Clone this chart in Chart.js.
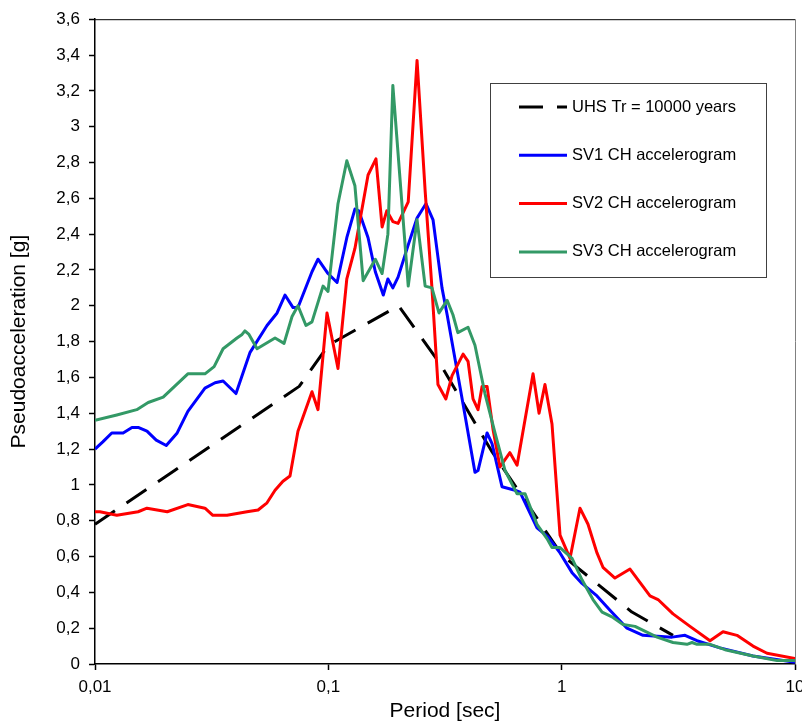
<!DOCTYPE html>
<html>
<head>
<meta charset="utf-8">
<script src="https://cdn.jsdelivr.net/npm/chart.js@4.4.1/dist/chart.umd.min.js"></script>
<style>
  html, body { margin: 0; padding: 0; background: #fff; overflow: hidden; }
  #wrap { width: 802px; height: 726px; }
</style>
</head>
<body>
<div id="wrap"><canvas id="spectra" width="802" height="726"></canvas></div>
<script>
// ---- 1. DATA --------------------------------
// periods in seconds, spectral values in g
const uhsPeriods = [0.01, 0.075, 0.1, 0.2, 0.3, 0.5, 1.0, 2.0, 3.0];
const uhsValues  = [0.78, 1.55, 1.78, 2.0, 1.68, 1.19, 0.61, 0.29, 0.16];

const sv1Periods = [0.01, 0.0108, 0.0118, 0.0132, 0.0144, 0.0154, 0.0167, 0.0183, 0.0202, 0.0225,
  0.025, 0.0296, 0.0327, 0.0354, 0.0402, 0.0462, 0.0546, 0.0603, 0.0652, 0.0706, 0.0741, 0.0851,
  0.0903, 0.0997, 0.109, 0.12, 0.13, 0.135, 0.148, 0.159, 0.172, 0.18, 0.189, 0.199, 0.22, 0.24,
  0.262, 0.281, 0.307, 0.323, 0.378, 0.425, 0.438, 0.479, 0.503, 0.555, 0.631, 0.663, 0.784, 0.874,
  0.984, 1.108, 1.222, 1.417, 1.611, 1.905, 2.232, 2.972, 3.378, 3.802, 4.771, 6.607, 10];
const sv1Values  = [1.20, 1.24, 1.29, 1.29, 1.32, 1.32, 1.30, 1.25, 1.22, 1.29,
  1.41, 1.54, 1.57, 1.58, 1.51, 1.74, 1.89, 1.96, 2.06, 1.99, 1.99, 2.19,
  2.26, 2.18, 2.13, 2.38, 2.54, 2.53, 2.38, 2.19, 2.06, 2.15, 2.10, 2.16, 2.34, 2.49,
  2.57, 2.48, 2.10, 1.95, 1.45, 1.07, 1.08, 1.29, 1.23, 0.99, 0.97, 0.96, 0.76, 0.71,
  0.62, 0.51, 0.45, 0.38, 0.30, 0.20, 0.16, 0.15, 0.16, 0.13, 0.09, 0.045, 0.01];

const sv2Periods = [0.01, 0.0105, 0.0124, 0.0153, 0.0167, 0.0204, 0.025, 0.0296, 0.032, 0.0368,
  0.0448, 0.05, 0.0546, 0.0591, 0.0639, 0.0685, 0.0741, 0.0851, 0.0903, 0.0987, 0.11, 0.12,
  0.13, 0.148, 0.16, 0.17, 0.178, 0.189, 0.199, 0.22, 0.24, 0.26, 0.278, 0.295, 0.319, 0.339,
  0.378, 0.397, 0.417, 0.438, 0.456, 0.479, 0.508, 0.544, 0.6, 0.644, 0.754, 0.8, 0.848, 0.909,
  0.984, 1.086, 1.198, 1.297, 1.417, 1.503, 1.692, 1.963, 2.391, 2.588, 3.001, 3.548, 4.323,
  4.914, 5.641, 6.607, 7.586, 10];
const sv2Values  = [0.85, 0.85, 0.83, 0.85, 0.87, 0.85, 0.89, 0.87, 0.83, 0.83,
  0.85, 0.86, 0.90, 0.97, 1.02, 1.05, 1.30, 1.52, 1.42, 1.96, 1.65, 2.15,
  2.32, 2.73, 2.82, 2.44, 2.53, 2.47, 2.46, 2.58, 3.37, 2.64, 2.10, 1.56, 1.48, 1.61,
  1.73, 1.69, 1.48, 1.42, 1.55, 1.55, 1.31, 1.10, 1.18, 1.11, 1.62, 1.40, 1.56, 1.34,
  0.72, 0.59, 0.87, 0.78, 0.62, 0.54, 0.48, 0.53, 0.38, 0.36, 0.28, 0.21, 0.13,
  0.18, 0.16, 0.10, 0.06, 0.03];

const sv3Periods = [0.01, 0.0124, 0.0151, 0.0169, 0.0196, 0.025, 0.0296, 0.0324, 0.0354, 0.0406,
  0.0427, 0.0439, 0.0457, 0.0495, 0.0591, 0.0646, 0.0699, 0.0741, 0.0802, 0.0851, 0.0949, 0.0997,
  0.11, 0.12, 0.13, 0.141, 0.159, 0.17, 0.18, 0.189, 0.22, 0.24, 0.26, 0.278, 0.298, 0.323,
  0.342, 0.359, 0.397, 0.425, 0.469, 0.518, 0.572, 0.644, 0.697, 0.784, 0.865, 0.909, 0.984,
  1.108, 1.222, 1.362, 1.49, 1.66, 1.832, 2.063, 2.563, 3.001, 3.444, 3.619, 3.802, 4.323,
  5.012, 6.607, 8.375, 10];
const sv3Values  = [1.36, 1.39, 1.42, 1.46, 1.49, 1.62, 1.62, 1.66, 1.76, 1.82,
  1.84, 1.86, 1.84, 1.76, 1.82, 1.79, 1.94, 2.00, 1.89, 1.91, 2.11, 2.08,
  2.57, 2.81, 2.67, 2.14, 2.26, 2.18, 2.40, 3.23, 2.11, 2.48, 2.11, 2.10, 1.96, 2.03,
  1.95, 1.85, 1.88, 1.78, 1.51, 1.29, 1.08, 0.95, 0.95, 0.78, 0.70, 0.65, 0.65,
  0.59, 0.47, 0.36, 0.29, 0.26, 0.22, 0.21, 0.15, 0.12, 0.11, 0.12, 0.11, 0.11,
  0.08, 0.045, 0.02, 0.02];

const seriesNames = ["UHS Tr = 10000 years", "SV1 CH accelerogram", "SV2 CH accelerogram", "SV3 CH accelerogram"];
const xTicks = [0.01, 0.1, 1, 10];

// ---- 2. HELPERS -----------------------------
const toPoints = (xs, ys) => xs.map((x, i) => ({ x: x, y: ys[i] }));
const comma = v => String(Math.round(v * 100) / 100).replace(".", ",");
const FONT = "'Liberation Sans', Arial, sans-serif";

// legend box drawn inside the plot area, like the original
const boxLegend = {
  id: "boxLegend",
  afterDraw(chart) {
    const ctx = chart.ctx;
    const area = chart.chartArea;
    ctx.save();
    // plot frame (top + right)
    ctx.lineWidth = 1;
    ctx.strokeStyle = "#000";
    ctx.beginPath();
    ctx.moveTo(area.left, area.top + 0.5);
    ctx.lineTo(area.right, area.top + 0.5);
    ctx.stroke();
    ctx.strokeStyle = "#808080";
    ctx.beginPath();
    ctx.moveTo(area.right + 0.5, area.top);
    ctx.lineTo(area.right + 0.5, area.bottom);
    ctx.stroke();

    ctx.strokeStyle = "#404040";
    ctx.strokeRect(490.5, 83.5, 276, 194);
    ctx.font = "16.5px " + FONT;
    ctx.fillStyle = "#000";
    ctx.textBaseline = "middle";
    chart.data.datasets.forEach((ds, i) => {
      const y = 107 + i * 48.3;
      ctx.strokeStyle = ds.borderColor;
      ctx.lineWidth = 3;
      ctx.setLineDash(ds.borderDash || []);
      ctx.beginPath();
      ctx.moveTo(519, y);
      ctx.lineTo(567, y);
      ctx.stroke();
      ctx.setLineDash([]);
      ctx.fillText(ds.label, 572, y);
    });
    ctx.restore();
  }
};

// ---- 3. CHART -------------------------------
const ctx = document.getElementById("spectra").getContext("2d");

new Chart(ctx, {
  type: "line",
  data: {
    datasets: [
      { label: seriesNames[0], data: toPoints(uhsPeriods, uhsValues), borderColor: "#000000",
        borderDash: [24, 14], order: 4 },
      { label: seriesNames[1], data: toPoints(sv1Periods, sv1Values), borderColor: "#0000FF", order: 3 },
      { label: seriesNames[2], data: toPoints(sv2Periods, sv2Values), borderColor: "#FF0000", order: 2 },
      { label: seriesNames[3], data: toPoints(sv3Periods, sv3Values), borderColor: "#339966", order: 1 },
    ],
  },
  options: {
    responsive: false,
    animation: false,
    events: [],
    layout: { padding: { top: 17, right: 7, left: 0, bottom: 0 } },
    elements: {
      point: { radius: 0 },
      line: { borderWidth: 3, tension: 0, fill: false, borderCapStyle: "butt", borderJoinStyle: "round" },
    },
    plugins: { legend: { display: false }, tooltip: { enabled: false } },
    scales: {
      x: {
        type: "logarithmic",
        min: 0.01,
        max: 10,
        afterBuildTicks: scale => { scale.ticks = xTicks.map(v => ({ value: v, major: true })); },
        afterFit: scale => { scale.height = 62; scale.paddingLeft = 0; scale.paddingRight = 0; },
        grid: { drawOnChartArea: false, drawTicks: true, tickLength: 6, tickColor: "#000", tickWidth: 1.5 },
        border: { color: "#000", width: 1.5 },
        ticks: {
          color: "#000", padding: 7, maxRotation: 0, autoSkip: false,
          font: { family: FONT, size: 17 },
          callback: v => comma(v),
        },
        title: {
          display: true, text: "Period [sec]", color: "#000",
          font: { family: FONT, size: 21 }, padding: { top: 0, bottom: 2 },
        },
      },
      y: {
        min: 0,
        max: 3.6,
        afterFit: scale => { scale.width = 95; },
        grid: { drawOnChartArea: false, drawTicks: true, tickLength: 6, tickColor: "#000", tickWidth: 1.5 },
        border: { color: "#000", width: 1.5 },
        ticks: {
          stepSize: 0.2, color: "#000", padding: 9,
          font: { family: FONT, size: 17 },
          callback: v => comma(v),
        },
        title: {
          display: true, text: "Pseudoacceleration [g]", color: "#000",
          font: { family: FONT, size: 21 }, padding: { top: 7, bottom: 0 },
        },
      },
    },
  },
  plugins: [boxLegend],
});
</script>
</body>
</html>
